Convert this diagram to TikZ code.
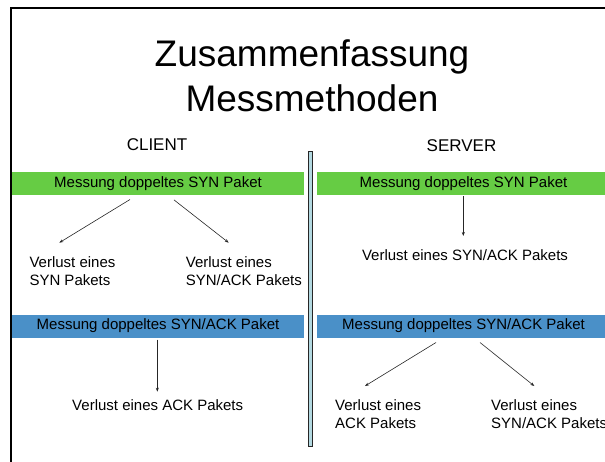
\documentclass[tikz,border=0pt]{standalone}
\usepackage{fontspec}
\setmainfont{Liberation Sans}
\usetikzlibrary{positioning, arrows.meta}
\definecolor{synGreen}{RGB}{102,204,68}
\definecolor{ackBlue}{RGB}{74,144,200}
\definecolor{wallFill}{RGB}{178,216,224}

\begin{document}
\begin{tikzpicture}
  [
    x=1pt, y=-1pt,
    bar/.style={rectangle, inner sep=0pt, minimum height=23pt, font=\fontsize{15}{18}\selectfont},
    synbar/.style={bar, fill=synGreen, minimum width=292pt},
    ackbar/.style={bar, fill=ackBlue, minimum width=292pt},
    loss/.style={inner sep=0pt, align=left, font=\fontsize{15}{17.7}\selectfont},
    side/.style={inner sep=0pt, font=\fontsize{17}{20}\selectfont},
    heading/.style={inner sep=0pt, align=center, font=\fontsize{37}{45}\selectfont},
    wall/.style={draw=black!85, fill=wallFill, line width=0.9pt, minimum width=4pt, minimum height=295pt, inner sep=0pt},
    arr/.style={-{Stealth[length=4pt, width=3pt]}, line width=0.6pt, black!85}
  ]
    \clip (0,0) rectangle (605,461);
    % slide frame
    \draw [line width=2pt] (11,470) -- (11,8.3) -- (620,8.3);

    % =========================================================================
    % NODES
    % =========================================================================
    \node [heading, anchor=north] (title) at (312,39.7) {Zusammenfassung\\Messmethoden};
    \node [side, anchor=base] (client) at (157,150) {CLIENT};
    \node [side, anchor=base] (server) at (461.5,151.7) {SERVER};
    \node [wall] (wall) at (310.2,298.5) {};

    \node [synbar] (synC) at (158,183.5) {Messung doppeltes SYN Paket};
    \node [synbar, minimum width=293pt] (synS) at (463.5,183.5) {Messung doppeltes SYN Paket};
    \node [ackbar] (ackC) at (158,326) {Messung doppeltes SYN/ACK Paket};
    \node [ackbar, minimum width=293pt] (ackS) at (463.5,326) {Messung doppeltes SYN/ACK Paket};

    \node [loss, anchor=north west] (lossC1) at (29.3,256.5) {Verlust eines\\SYN Pakets};
    \node [loss, anchor=north west] (lossC2) at (185.7,256.5) {Verlust eines\\SYN/ACK Pakets};
    \node [loss, anchor=base] (lossS1) at (465,260.7) {Verlust eines SYN/ACK Pakets};
    \node [loss, anchor=base] (lossC3) at (157.7,410) {Verlust eines ACK Pakets};
    \node [loss, anchor=north west] (lossS2) at (335,399.3) {Verlust eines\\ACK Pakets};
    \node [loss, anchor=north west] (lossS3) at (491,399.3) {Verlust eines\\SYN/ACK Pakets};

    \coordinate (tipC1) at (59.3,242.7);
    \coordinate (tipC2) at (228.7,242.7);
    \coordinate (tipS1) at (463.3,236);
    \coordinate (tipC3) at (157.3,391.7);
    \coordinate (tipS2) at (365,386);
    \coordinate (tipS3) at (534.3,386);

    % =========================================================================
    % PATHS
    % =========================================================================
    % --- CLIENT ---
    \draw [arr] ([xshift=-28pt, yshift=-4.3pt]synC.south) -- (tipC1);
    \draw [arr] ([xshift=16pt, yshift=-4.7pt]synC.south) -- (tipC2);
    \draw [arr] ([xshift=-0.7pt, yshift=-1.8pt]ackC.south) -- (tipC3);
    % --- SERVER ---
    \draw [arr] ([xshift=-0.2pt, yshift=-1pt]synS.south) -- (tipS1);
    \draw [arr] ([xshift=-27.5pt, yshift=-4.8pt]ackS.south) -- (tipS2);
    \draw [arr] ([xshift=16.5pt, yshift=-4.8pt]ackS.south) -- (tipS3);

  \end{tikzpicture}
\end{document}
